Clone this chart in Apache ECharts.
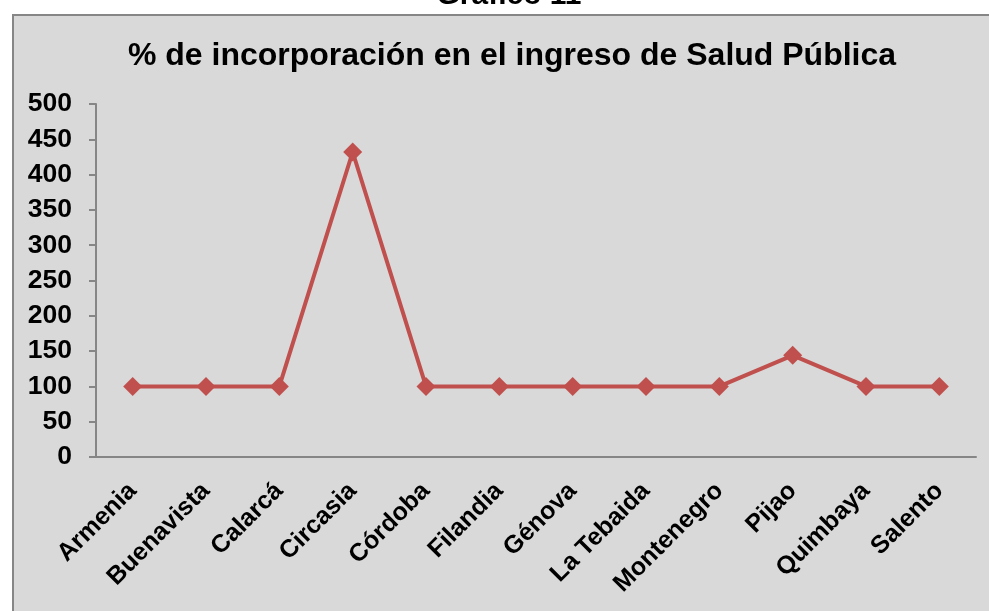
<!DOCTYPE html>
<html>
<head>
<meta charset="utf-8">
<script src="https://cdn.jsdelivr.net/npm/echarts@6/dist/echarts.min.js"></script>
<style>
  html, body { margin: 0; padding: 0; background: #fff; }
  #chart { width: 989px; height: 611px; }
</style>
</head>
<body>
<div id="chart"></div>
<script>
// municipios del Quindío
const categories = ['Armenia', 'Buenavista', 'Calarcá', 'Circasia', 'Córdoba', 'Filandia',
  'Génova', 'La Tebaida', 'Montenegro', 'Pijao', 'Quimbaya', 'Salento'];
// % de incorporación
const values = [100, 100, 100, 432, 100, 100, 100, 100, 100, 144, 100, 100];

const chart = echarts.init(document.getElementById('chart'));

const font = '"Liberation Sans", Arial, sans-serif';

const option = {
  animation: false,
  backgroundColor: '#ffffff',
  textStyle: { fontFamily: font },
  graphic: [
    {
      type: 'rect',
      z: -10,
      shape: { x: 13, y: 15, width: 990, height: 610 },
      style: { fill: '#d9d9d9', stroke: '#868686', lineWidth: 2 }
    },
    {
      type: 'text',
      x: 509,
      y: -19,
      style: { text: 'Gráfico 11', font: 'bold 30px ' + font, fill: '#000', align: 'center' }
    }
  ],
  title: {
    text: '% de incorporación en el ingreso de Salud Pública',
    left: 507,
    textAlign: 'center',
    top: 35,
    textStyle: { fontFamily: font, fontSize: 32, fontWeight: 'bold', color: '#000' }
  },
  grid: { left: 96, right: 13, top: 104, bottom: 154 },
  xAxis: {
    type: 'category',
    data: categories,
    axisLine: { lineStyle: { color: '#868686', width: 2 } },
    axisTick: { length: 7, lineStyle: { color: '#868686', width: 2 } },
    axisLabel: {
      rotate: 45,
      margin: 30,
      interval: 0,
      fontSize: 25,
      fontWeight: 'bold',
      color: '#000',
      fontFamily: font
    }
  },
  yAxis: {
    type: 'value',
    min: 0,
    max: 500,
    interval: 50,
    splitLine: { show: false },
    axisLine: { show: true, lineStyle: { color: '#868686', width: 2 } },
    axisTick: { show: true, length: 7, lineStyle: { color: '#868686', width: 2 } },
    axisLabel: {
      margin: 24,
      fontSize: 26.5,
      fontWeight: 'bold',
      color: '#000',
      fontFamily: font
    }
  },
  series: [
    {
      type: 'line',
      data: values,
      symbol: 'diamond',
      symbolSize: 19,
      lineStyle: { color: '#c0504d', width: 4 },
      itemStyle: { color: '#c0504d' }
    }
  ]
};

chart.setOption(option);
</script>
</body>
</html>
